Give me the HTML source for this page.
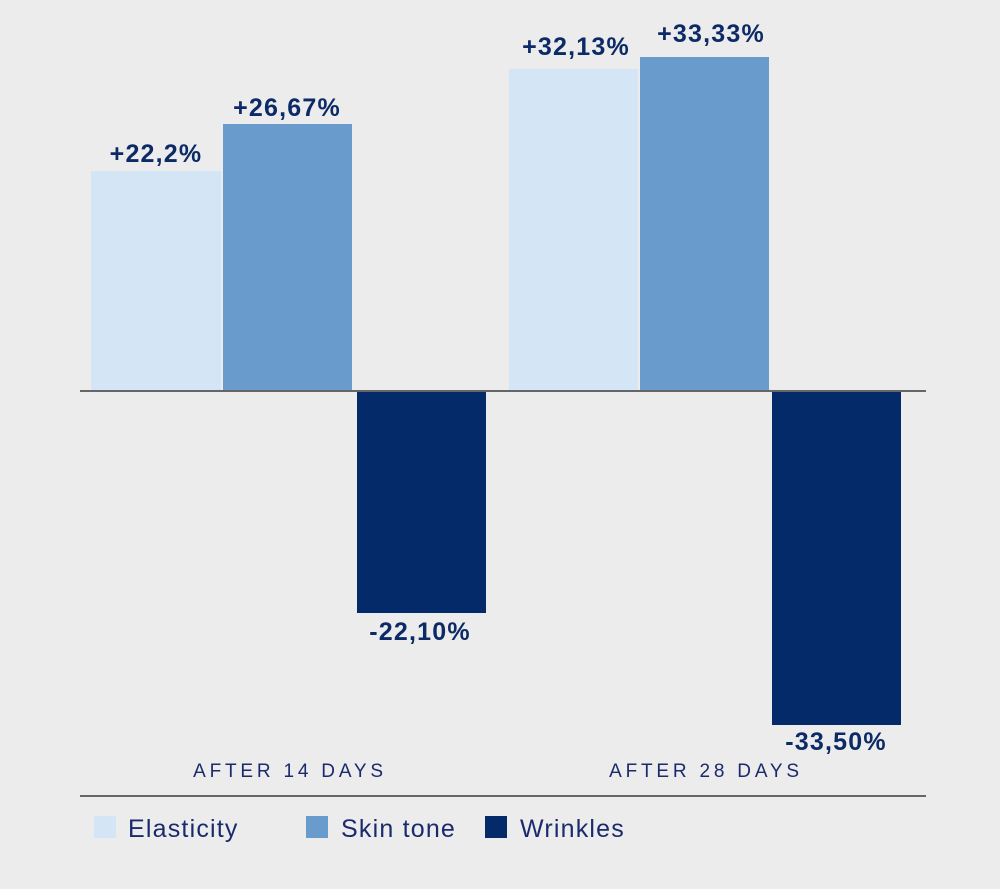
<!DOCTYPE html>
<html><head><meta charset="utf-8"><style>
html,body{margin:0;padding:0;background:#ececec;}
svg{display:block;}
text{font-family:"Liberation Sans",sans-serif;}
.v{font-size:25px;font-weight:bold;fill:#0b2a66;text-anchor:middle;letter-spacing:1.2px;}
.c{font-size:19px;fill:#1a2a6c;letter-spacing:3.8px;text-anchor:middle;}
.l{font-size:25px;fill:#1a2a6c;letter-spacing:1.2px;}
</style></head><body>
<svg width="1000" height="889" viewBox="0 0 1000 889">
<rect width="1000" height="889" fill="#ececec"/>
<rect x="91" y="171" width="130" height="220" fill="#d4e5f5"/>
<rect x="223" y="124" width="129" height="267" fill="#6a9bcd"/>
<rect x="357" y="391" width="129" height="222" fill="#052a69"/>
<rect x="509" y="69" width="129" height="322" fill="#d4e5f5"/>
<rect x="640" y="57" width="129" height="334" fill="#6a9bcd"/>
<rect x="772" y="391" width="129" height="334" fill="#052a69"/>
<line x1="80" y1="391" x2="926" y2="391" stroke="#666" stroke-width="2"/>
<text class="v" x="156" y="162">+22,2%</text>
<text class="v" x="287" y="116">+26,67%</text>
<text class="v" x="420" y="640">-22,10%</text>
<text class="v" x="576" y="55">+32,13%</text>
<text class="v" x="711" y="42">+33,33%</text>
<text class="v" x="836" y="750">-33,50%</text>
<text class="c" x="290" y="777">AFTER 14 DAYS</text>
<text class="c" x="706" y="777">AFTER 28 DAYS</text>
<line x1="80" y1="796" x2="926" y2="796" stroke="#666" stroke-width="2"/>
<rect x="94" y="816" width="22" height="22" fill="#d4e5f5"/>
<text class="l" x="128" y="837">Elasticity</text>
<rect x="306" y="816" width="22" height="22" fill="#6a9bcd"/>
<text class="l" x="341" y="837">Skin tone</text>
<rect x="485" y="816" width="22" height="22" fill="#052a69"/>
<text class="l" x="520" y="837">Wrinkles</text>
</svg>
</body></html>
